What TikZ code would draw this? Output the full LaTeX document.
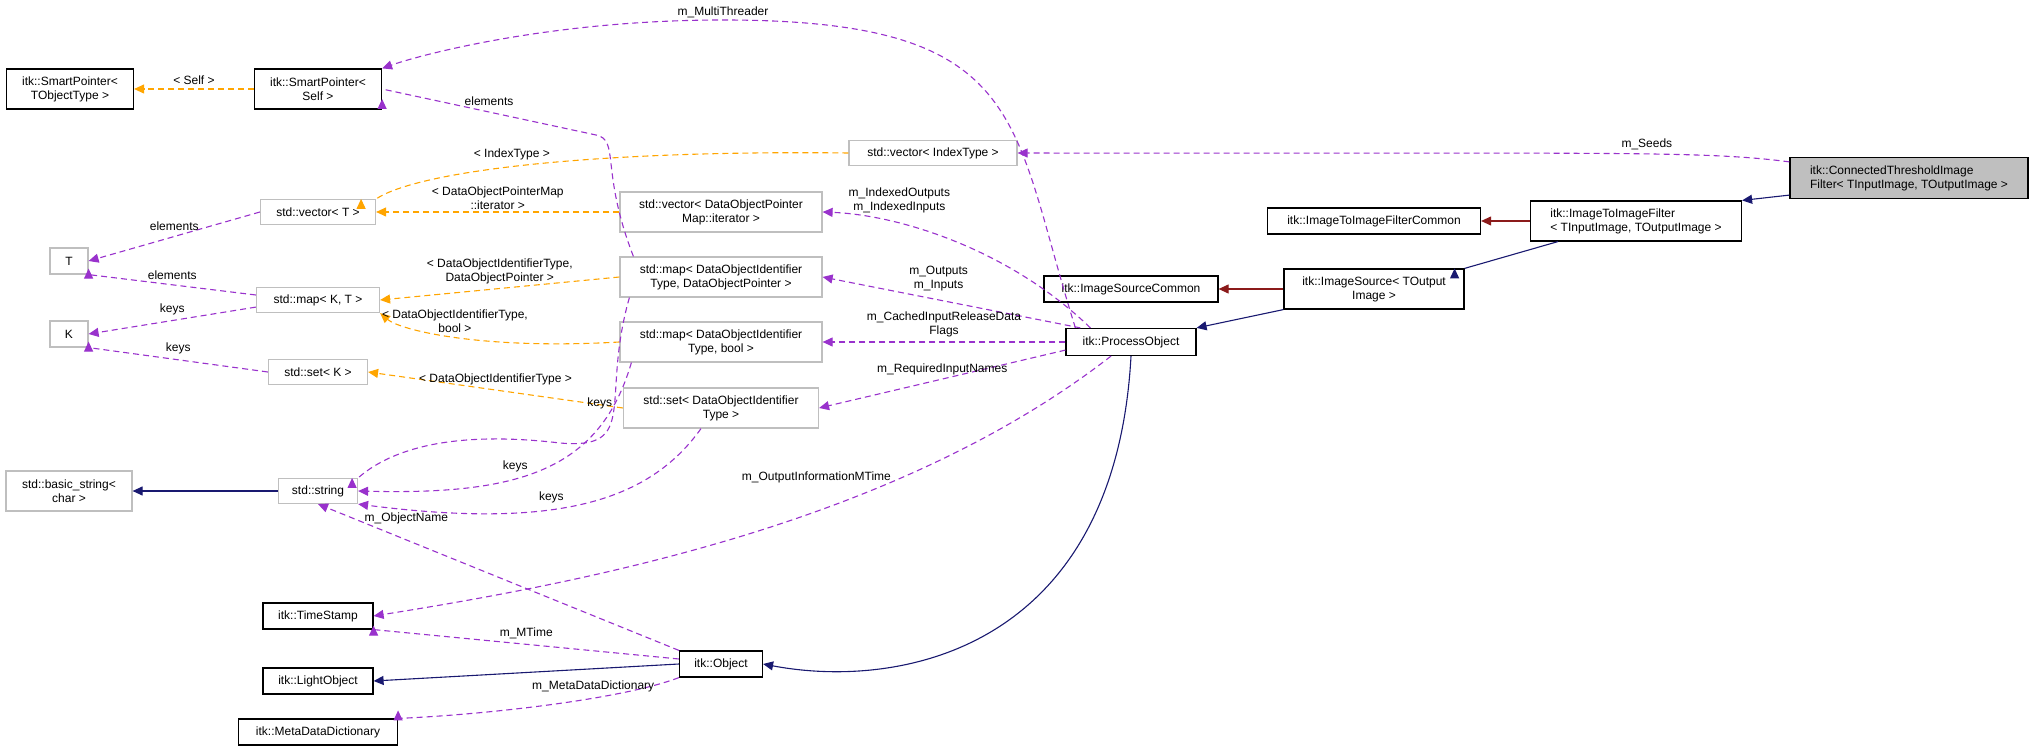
\documentclass[tikz,border=0pt]{standalone}
\usepackage{fontspec}
\setmainfont{Liberation Sans}
\usetikzlibrary{arrows.meta}
\definecolor{usecol}{RGB}{153,50,204}
\definecolor{tmplcol}{RGB}{255,165,0}
\definecolor{inhcol}{RGB}{25,25,112}
\definecolor{protcol}{RGB}{139,26,26}
\definecolor{extcol}{RGB}{191,191,191}
\tikzset{
  cls/.style = {draw = black, line width = 1.2pt, align = center, inner sep = 2pt, minimum height = 26pt},
  ext/.style = {draw = extcol, line width = 1.2pt, align = center, inner sep = 2pt, minimum height = 25pt},
  use/.style = {draw = usecol, dashed, dash pattern = on 6pt off 4pt, line width = 1.1pt, -{Triangle[length=10pt,width=9pt]}},
  tmpl/.style = {draw = tmplcol, dashed, dash pattern = on 6pt off 4pt, line width = 1.1pt, -{Triangle[length=10pt,width=9pt]}},
  inh/.style = {draw = inhcol, line width = 1.1pt, -{Triangle[length=10pt,width=9pt]}},
  prot/.style = {draw = protcol, line width = 1.1pt, -{Triangle[length=10pt,width=9pt]}},
  lbl/.style = {align = center, inner sep = 0pt}
}
\begin{document}
\begin{tikzpicture}[x = 1pt, y = -1pt, font = \fontsize{12}{14}\selectfont]
    \useasboundingbox (0,0) rectangle (2035,751);
    % classes
    \node[cls, minimum width = 127pt, minimum height = 40pt] (spt) at (70,89) {itk::SmartPointer<\\TObjectType >};
    \node[cls, minimum width = 127pt, minimum height = 40pt] (sps) at (318,89) {itk::SmartPointer<\\Self >};
    \node[ext, minimum width = 168pt] (vecidx) at (933,153) {std::vector< IndexType >};
    \node[ext, minimum width = 115pt] (vect) at (318,212) {std::vector< T >};
    \node[ext, minimum width = 202pt, minimum height = 40pt] (vecdop) at (721,212) {std::vector< DataObjectPointer\\Map::iterator >};
    \node[ext, minimum width = 38pt, minimum height = 26pt] (t) at (69,261) {T};
    \node[ext, minimum width = 123pt] (mapkt) at (318,300) {std::map< K, T >};
    \node[ext, minimum width = 202pt, minimum height = 40pt] (mapdop) at (721,277) {std::map< DataObjectIdentifier\\Type, DataObjectPointer >};
    \node[ext, minimum width = 38pt, minimum height = 26pt] (k) at (69,334) {K};
    \node[ext, minimum width = 202pt, minimum height = 40pt] (mapbool) at (721,342) {std::map< DataObjectIdentifier\\Type, bool >};
    \node[ext, minimum width = 99pt] (setk) at (318,372) {std::set< K >};
    \node[ext, minimum width = 195pt, minimum height = 40pt] (setdoi) at (721,408) {std::set< DataObjectIdentifier\\Type >};
    \node[ext, minimum width = 126pt, minimum height = 40pt] (bstr) at (69,491) {std::basic\_string<\\char >};
    \node[ext, minimum width = 79pt] (str) at (318,491) {std::string};
    \node[cls, minimum width = 110pt] (ts) at (318,616) {itk::TimeStamp};
    \node[cls, minimum width = 110pt] (lo) at (318,681) {itk::LightObject};
    \node[cls, minimum width = 159pt] (mdd) at (318,732) {itk::MetaDataDictionary};
    \node[cls, minimum width = 83pt] (obj) at (721,664) {itk::Object};
    \node[cls, minimum width = 130pt, minimum height = 27pt] (po) at (1131,342) {itk::ProcessObject};
    \node[cls, minimum width = 174pt] (isc) at (1131,289) {itk::ImageSourceCommon};
    \node[cls, minimum width = 180pt, minimum height = 40pt] (is) at (1374,289) {itk::ImageSource< TOutput\\Image >};
    \node[cls, minimum width = 213pt] (itifc) at (1374,221) {itk::ImageToImageFilterCommon};
    \node[cls, minimum width = 211pt, minimum height = 40pt, align = left] (itif) at (1636,221) {itk::ImageToImageFilter\\< TInputImage, TOutputImage >};
    \node[cls, fill = extcol, minimum width = 238pt, minimum height = 41pt, align = left] (ctif) at (1909,178) {itk::ConnectedThresholdImage\\Filter< TInputImage, TOutputImage >};
    % inheritance
    \draw[inh] (ctif.south west) ++(0,-4) -- (itif.north east);
    \draw[prot] (itif) -- (itifc);
    \draw[inh] (itif.south west) ++(28,0) -- (is.north east) ++(-10,0);
    \draw[prot] (is) -- (isc);
    \draw[inh] (is.south west) -- (po.north east);
    \draw[inh] (str) -- (bstr);
    \draw[inh] (obj.west) -- (lo.east);
    \draw[inh] (po.south) .. controls (1115,650) and (900,690) .. (obj.east);
    % templates
    \draw[tmpl] (sps) -- node[lbl, above = 4pt] {< Self >} (spt);
    \draw[tmpl] (vecidx.west) .. controls (600,150) and (420,170) .. node[lbl, pos = 0.55, above = 6pt] {< IndexType >} (vect.north east) ++(-15,0);
    \draw[tmpl] (vecdop) -- node[lbl, above = 2pt] {< DataObjectPointerMap\\::iterator >} (vect);
    \draw[tmpl] (mapdop.west) -- node[lbl, above = 4pt] {< DataObjectIdentifierType,\\DataObjectPointer >} (mapkt.east);
    \draw[tmpl] (mapbool.west) .. controls (480,350) and (400,330) .. node[lbl, pos = 0.5, above = 4pt] {< DataObjectIdentifierType,\\bool >} (mapkt.south east);
    \draw[tmpl] (setdoi.west) -- node[lbl, above = 4pt] {< DataObjectIdentifierType >} (setk.east);
    % members
    \draw[use] (ctif.north west) ++(0,5) .. controls (1700,150) and (1600,154) .. node[lbl, pos = 0.4, above = 3pt] {m\_Seeds} (vecidx.east);
    \draw[use] (po.north west) ++(10,0) .. controls (1010,120) and (1030,20) .. node[lbl, pos = 1, above = 2pt] {m\_MultiThreader} (723,20) .. controls (550,20) and (420,55) .. (sps.north east);
    \draw[use] (mapdop.north west) ++(14,0) .. controls (600,170) and (620,140) .. (596,135) -- node[lbl, above = 6pt] {elements} (sps.east) ++(0,10);
    \draw[use] (po.north west) ++(25,0) .. controls (1010,250) and (900,215) .. node[lbl, pos = 0.7, above = 10pt] {m\_IndexedOutputs\\m\_IndexedInputs} (vecdop.east);
    \draw[use] (po.north west) ++(15,0) -- node[lbl, pos = 0.55, above = 8pt] {m\_Outputs\\m\_Inputs} (mapdop.east);
    \draw[use] (po.west) -- node[lbl, above = 4pt] {m\_CachedInputReleaseData\\Flags} (mapbool.east);
    \draw[use] (po.south west) ++(0,-6) -- node[lbl, pos = 0.5, above = 4pt] {m\_RequiredInputNames} (setdoi.east);
    \draw[use] (vect.west) -- node[lbl, above = 5pt] {elements} (t.east);
    \draw[use] (mapkt.west) ++(0,-5) -- node[lbl, above = 5pt] {elements} (t.south east) ++(0,-6);
    \draw[use] (mapkt.south west) ++(0,-6) -- node[lbl, above = 5pt] {keys} (k.east);
    \draw[use] (setk.west) -- node[lbl, above = 5pt] {keys} (k.south east) ++(0,-6);
    \draw[use] (mapdop.south west) ++(10,0) .. controls (600,400) and (640,450) .. node[lbl, pos = 0.45, left = 2pt] {keys} (560,443) .. controls (450,430) and (390,450) .. (str.north east) ++(-6,0);
    \draw[use] (mapbool.south west) ++(12,0) .. controls (600,470) and (520,495) .. node[lbl, pos = 0.6, above = 6pt] {keys} (str.east);
    \draw[use] (setdoi.south) ++(-20,0) .. controls (650,500) and (560,530) .. node[lbl, pos = 0.6, above = 6pt] {keys} (str.south east);
    \draw[use] (po.south) ++(-20,0) .. controls (900,520) and (600,580) .. node[lbl, pos = 0.3, left = 10pt] {m\_OutputInformationMTime} (ts.east);
    \draw[use] (obj.north west) -- node[lbl, pos = 0.9, right = 10pt] {m\_ObjectName} (str.south);
    \draw[use] (obj.west) ++(0,-5) -- node[lbl, above = 5pt] {m\_MTime} (ts.south east) ++(0,-4);
    \draw[use] (obj.south west) .. controls (620,700) and (480,715) .. node[lbl, pos = 0.35, above = 6pt] {m\_MetaDataDictionary} (mdd.north east) ++(0,-8);
\end{tikzpicture}
\end{document}
